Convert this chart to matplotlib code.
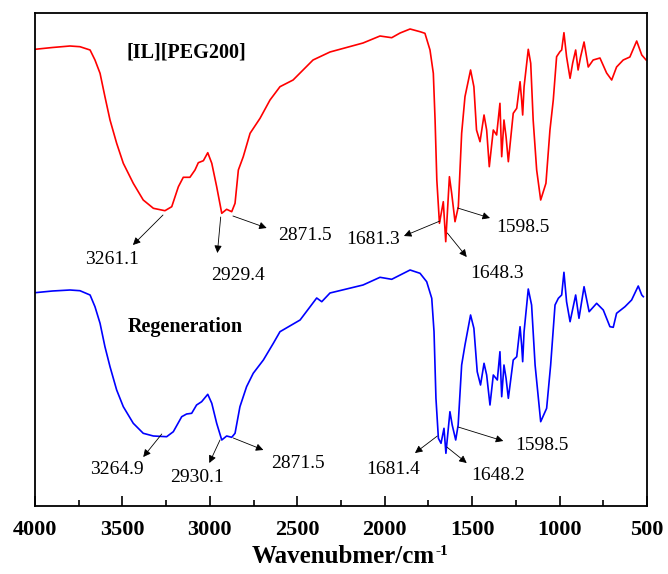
import matplotlib
matplotlib.use("Agg")
import matplotlib.pyplot as plt
from matplotlib.ticker import MultipleLocator

plt.rcParams['font.family'] = ['Liberation Serif', 'DejaVu Serif']

# Wavenumbers (cm-1) and transmittance (arbitrary units)
wn_il = [4000, 3900, 3800, 3743, 3685, 3657, 3628, 3600, 3571, 3533, 3495, 3438, 3381, 3323,
         3257, 3218, 3180, 3152, 3114, 3085, 3066, 3037, 3012, 2989, 2961, 2932, 2904, 2875,
         2856, 2837, 2809, 2770, 2713, 2656, 2599, 2524, 2410, 2313, 2124, 2027, 1960, 1912,
         1855, 1798, 1770, 1741, 1722, 1712, 1702, 1687, 1665, 1651, 1630, 1617, 1598, 1579,
         1560, 1541, 1509, 1490, 1475, 1455, 1432, 1417, 1402, 1379, 1360, 1341, 1331, 1318,
         1306, 1293, 1265, 1245, 1226, 1217, 1211, 1203, 1179, 1165, 1151, 1131, 1108, 1078,
         1055, 1036, 1017, 998, 988, 975, 960, 940, 925, 908, 894, 880, 860, 836, 808, 769,
         731, 702, 674, 636, 598, 559, 530, 505]
t_il = [456.7, 458.5, 460, 459.3, 456, 446, 432.7, 409.3, 386, 362.7, 342.7, 322.7, 306, 297.7,
        295.3, 299.3, 319.3, 328.7, 328.7, 336, 343.3, 345.3, 353.3, 342.7, 319.3, 292.7, 296.7, 294.3,
        302.7, 336, 349.3, 372.7, 387.7, 406, 419.3, 426, 446, 454, 463, 470, 468.3, 473,
        477, 474.3, 472.7, 456, 432.7, 386, 326, 282.7, 304.3, 264.3, 329.3, 312.7, 284.3, 299.3,
        372.7, 409.3, 436, 419.3, 376, 364.3, 391, 376, 339.3, 376, 371, 402.7, 349.3, 386,
        369.3, 344.3, 392.7, 397.7, 424.3, 406, 391, 419.3, 456.7, 442.7, 386, 336, 306, 322.7,
        376, 406, 449.3, 454.3, 456, 473.3, 449.3, 427.7, 443, 456, 436, 449, 464, 439, 446, 448,
        433, 426, 439, 446, 449, 465, 451, 446]

wn_reg = [4000, 3900, 3800, 3743, 3685, 3657, 3628, 3600, 3571, 3533, 3495, 3438, 3381, 3323,
          3247, 3209, 3161, 3133, 3104, 3076, 3047, 3012, 2989, 2961, 2932, 2904, 2875, 2856,
          2828, 2790, 2752, 2694, 2637, 2599, 2484, 2389, 2360, 2313, 2124, 2027, 1960, 1855,
          1798, 1760, 1731, 1718, 1707, 1693, 1678, 1661, 1650, 1627, 1614, 1594, 1580, 1560,
          1541, 1509, 1490, 1471, 1452, 1432, 1417, 1398, 1379, 1356, 1341, 1331, 1318, 1306,
          1293, 1265, 1245, 1226, 1217, 1211, 1203, 1179, 1160, 1140, 1108, 1074, 1051, 1026,
          1007, 988, 975, 960, 940, 908, 889, 860, 831, 788, 750, 712, 693, 674, 626, 588,
          550, 530, 521]
t_reg = [213.3, 215, 216, 215.3, 211, 199.3, 182.7, 159.3, 139.3, 116, 99.3, 82.7, 72.7, 70,
         69.3, 74.3, 89.3, 92, 92.7, 101, 104.3, 111.7, 102.7, 82.7, 66, 70, 68.7, 72.7,
         99.3, 119.3, 132.7, 146, 162.7, 174.3, 186, 208, 204.3, 213, 221, 228.7, 226.7, 236,
         232.7, 224.3, 207.7, 174.3, 107.7, 67.7, 62.7, 77.7, 52.7, 94.3, 81, 66, 81, 141,
         161, 191, 177.7, 134.3, 121, 142.7, 131, 101, 131, 126, 154.3, 109.3, 141, 127.7,
         107.7, 146, 149.3, 179.3, 161, 144.3, 174.3, 217, 201, 141, 84.3, 97.7, 141, 201,
         207.7, 211, 233.7, 204.3, 184.3, 211, 187.7, 219.3, 194.3, 202.7, 196, 179.3, 178.7, 192.7, 199.3, 206,
         220, 211, 209.3]

series_names = ["[IL][PEG200]", "Regeneration"]
x_ticks = [4000, 3500, 3000, 2500, 2000, 1500, 1000, 500]

# peak labels: text, arrow tail (wn, T), arrow head (wn, T), text position (wn, T)
peaks_il = [
    ("3261.1", (3268, 291), (3440, 261), (3560, 247)),
    ("2929.4", (2938, 289), (2957, 253), (2839, 230)),
    ("2871.5", (2868, 290), (2675, 278), (2456, 271)),
    ("1681.3", (1684, 285), (1890, 270), (2065, 266)),
    ("1598.5", (1583, 298), (1398, 288), (1207, 279)),
    ("1648.3", (1642, 273), (1531, 249), (1360, 233)),
]
peaks_reg = [
    ("3264.9", (3275, 72), (3381, 49), (3533, 36)),
    ("2930.1", (2942, 66), (3003, 43), (3075, 29)),
    ("2871.5", (2866, 68), (2694, 56), (2494, 43)),
    ("1681.4", (1699, 70), (1827, 53), (1951, 36)),
    ("1648.2", (1645, 59), (1531, 43), (1350, 31)),
    ("1598.5", (1580, 79), (1322, 65), (1103, 61)),
]

fig = plt.figure(figsize=(6.68, 5.74), dpi=100)
ax = fig.add_axes([35/668, 68/574, 612/668, 493/574])

ax.plot(wn_il, t_il, color='#ff0000', lw=1.2)
ax.plot(wn_reg, t_reg, color='#0000ff', lw=1.2)

ax.set_xlim(4000, 500)
ax.set_ylim(0, 493)

ax.text(3133, 454, series_names[0], fontsize=14.5, fontweight='bold', ha='center', va='center')
ax.text(3142, 179, series_names[1], fontsize=14.5, fontweight='bold', ha='center', va='center')

for label, tail, head, pos in peaks_il + peaks_reg:
    ax.annotate('', xy=head, xytext=tail,
                arrowprops=dict(arrowstyle='-|>', color='black', lw=0.6,
                                mutation_scale=11, shrinkA=0, shrinkB=0))
    ax.text(pos[0], pos[1], label, fontsize=14, ha='center', va='center')

ax.set_xticks(x_ticks)
ax.xaxis.set_minor_locator(MultipleLocator(250))
ax.set_yticks([])
ax.tick_params(axis='x', which='major', direction='in', length=7, width=1.2,
               labelsize=16, pad=10, top=False)
ax.tick_params(axis='x', which='minor', direction='in', length=4, width=1.2, top=False)
for lab in ax.get_xticklabels():
    lab.set_fontweight('bold')
for s in ax.spines.values():
    s.set_linewidth(1.3)
    s.set_color('black')

xl = ax.set_xlabel('Wavenubmer/cm', fontsize=18, fontweight='bold')
ax.xaxis.set_label_coords((343 - 35) / 612, -0.079)
ax.annotate('-1', xy=(1, 1), xycoords=xl, xytext=(0.5, 0), textcoords='offset points',
            ha='left', va='top', fontsize=11, fontweight='bold')

fig.savefig('out.png', dpi=100)
